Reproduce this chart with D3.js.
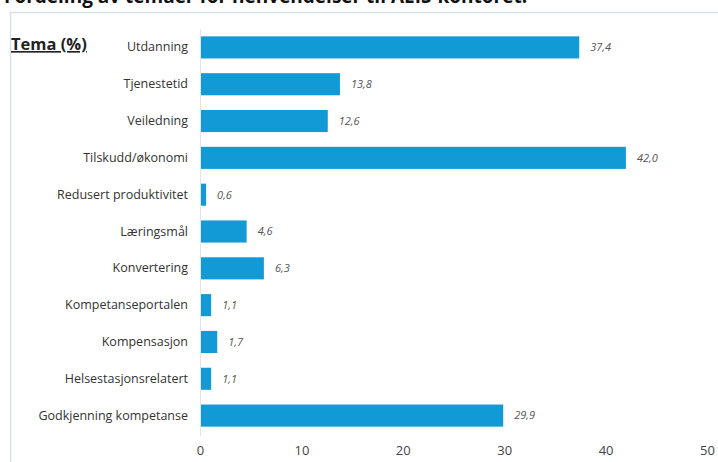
<!DOCTYPE html>
<html>
<head>
<meta charset="utf-8">
<script src="https://cdn.jsdelivr.net/npm/d3@7"></script>
<style>
  body { margin: 0; background: #fff; }
  svg { display: block; font-family: "Open Sans", "Liberation Sans", sans-serif; }
</style>
</head>
<body>
<svg width="718" height="462"></svg>
<script>
// Tema and share (%)
var categories = ["Utdanning", "Tjenestetid", "Veiledning", "Tilskudd/økonomi", "Redusert produktivitet",
  "Læringsmål", "Konvertering", "Kompetanseportalen", "Kompensasjon", "Helsestasjonsrelatert", "Godkjenning kompetanse"];
var values = [37.4, 13.8, 12.6, 42.0, 0.6, 4.6, 6.3, 1.1, 1.7, 1.1, 29.9];
var ticks = [0, 10, 20, 30, 40, 50];

var svg = d3.select("svg"),
    width = +svg.attr("width"),
    height = +svg.attr("height");

var margin = {left: 200, right: 11, top: 29, bottom: 28};

// title, cut at the top edge as in the source picture
svg.append("text")
    .attr("x", 4).attr("y", 3)
    .style("font-size", "19px").style("font-weight", "bold").style("fill", "#111")
    .text("Fordeling av temaer for henvendelser til AEIS-kontoret.")

// frame
svg.append("path")
    .attr("d", "M10.5," + height + "V12.5H" + width)
    .attr("fill", "none").attr("stroke", "#d6e2ea").attr("stroke-width", 1.5)

var x = d3.scaleLinear()
    .domain([0, 50])
    .range([margin.left, width - margin.right])

var y = d3.scaleBand()
    .domain(categories)
    .range([margin.top, height - margin.bottom])
    .paddingInner(0.4).paddingOuter(0.2)

// baseline
svg.append("line")
    .attr("x1", x(0) + 0.5).attr("x2", x(0) + 0.5)
    .attr("y1", margin.top).attr("y2", height - margin.bottom + 2)
    .attr("stroke", "#e4e4e4")

svg.append("g")
    .selectAll("rect")
    .data(values)
    .enter()
    .append("rect")
      .attr("x", x(0) + 1)
      .attr("y", function(d, i){ return y(categories[i]) })
      .attr("width", function(d){ return x(d) - x(0) - 1 })
      .attr("height", y.bandwidth())
      .attr("fill", "#119ad6")

// value labels
svg.append("g")
    .selectAll("text")
    .data(values)
    .enter()
    .append("text")
      .attr("x", function(d){ return x(d) + 11 })
      .attr("y", function(d, i){ return y(categories[i]) + y.bandwidth()/2 })
      .attr("dy", "0.35em")
      .style("font-size", "11px").style("font-style", "italic").style("fill", "#555")
      .text(function(d){ return d3.format(".1f")(d).replace(".", ",") })

// category axis
var yAxis = svg.append("g")
    .attr("transform", "translate(" + (x(0) - 12) + ",0)")
    .call(d3.axisLeft(y).tickSize(0).tickPadding(0))
yAxis.select(".domain").remove()
yAxis.selectAll("text")
    .style("font-size", "12.5px").style("fill", "#333")
    .style("font-family", "'Open Sans', sans-serif")

// value axis
var xAxis = svg.append("g")
    .attr("transform", "translate(0," + (height - 16) + ")")
    .call(d3.axisBottom(x).tickValues(ticks).tickSize(0).tickPadding(0))
xAxis.select(".domain").remove()
xAxis.selectAll("text")
    .style("font-size", "13px").style("fill", "#444")
    .style("font-family", "'Open Sans', sans-serif")

// header
svg.append("text")
    .attr("x", 11).attr("y", 50)
    .style("font-size", "16.5px").style("font-weight", "bold").style("fill", "#222")
    .style("text-decoration", "underline")
    .text("Tema (%)")
</script>
</body>
</html>
